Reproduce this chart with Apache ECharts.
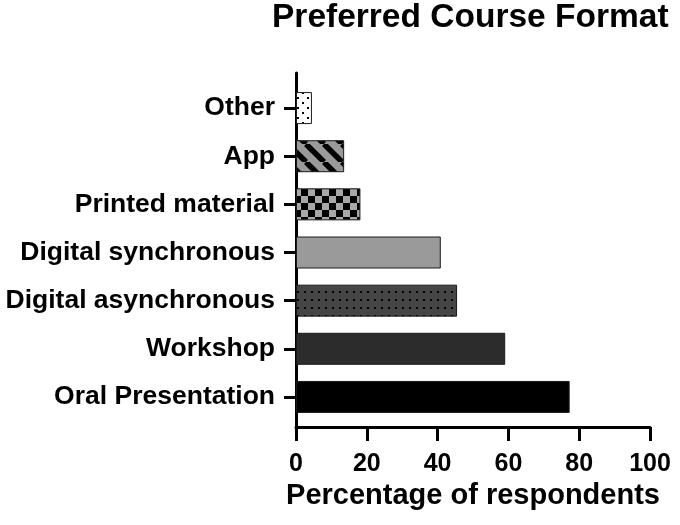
<!DOCTYPE html>
<html>
<head>
<meta charset="utf-8">
<script src="https://cdn.jsdelivr.net/npm/echarts@6/dist/echarts.min.js"></script>
<style>
  html, body { margin: 0; background: #fff; }
  #chart { width: 680px; height: 525px; }
</style>
</head>
<body>
<div id="chart"></div>
<script>
// data, bottom to top
var categories = ['Oral Presentation', 'Workshop', 'Digital asynchronous', 'Digital synchronous', 'Printed material', 'App', 'Other'];
var percents = [77.3, 59.1, 45.5, 40.9, 18.2, 13.6, 4.5];
var xTicks = [0, 20, 40, 60, 80, 100];

var FONT = 'Liberation Sans, Arial, Helvetica, sans-serif';

// small canvas tiles for the hatch fills
function tile(w, h, draw) {
  var c = document.createElement('canvas');
  c.width = w;
  c.height = h;
  draw(c.getContext('2d'));
  return c;
}
var dotsWhite = tile(10, 10, function (g) {
  g.fillStyle = '#fff'; g.fillRect(0, 0, 10, 10);
  g.fillStyle = '#000';
  g.fillRect(2, 2, 2, 2); g.fillRect(7, 7, 2, 2);
});
var stripes = tile(18, 18, function (g) {
  g.fillStyle = '#9a9a9a'; g.fillRect(0, 0, 18, 18);
  g.strokeStyle = '#000'; g.lineWidth = 5.5;
  for (var k = -2; k <= 2; k++) {
    g.beginPath(); g.moveTo(k * 18, 0); g.lineTo(k * 18 + 18, 18); g.stroke();
  }
});
var checks = tile(14, 14, function (g) {
  g.fillStyle = '#a8a8a8'; g.fillRect(0, 0, 14, 14);
  g.fillStyle = '#000';
  g.fillRect(0, 0, 7, 7); g.fillRect(7, 7, 7, 7);
});
var dotsDark = tile(7, 8, function (g) {
  g.fillStyle = '#454545'; g.fillRect(0, 0, 7, 8);
  g.fillStyle = '#000';
  g.fillRect(3, 3, 2, 2);
});

// fill per category, same order as categories
var fills = [
  '#000000',
  '#2c2c2c',
  { image: dotsDark, repeat: 'repeat' },
  '#9a9a9a',
  { image: checks, repeat: 'repeat' },
  { image: stripes, repeat: 'repeat' },
  { image: dotsWhite, repeat: 'repeat' }
];

var barData = percents.map(function (v, i) {
  return { value: v, itemStyle: { color: fills[i] } };
});

var chart = echarts.init(document.getElementById('chart'));
chart.setOption({
  backgroundColor: '#fff',
  animation: false,
  textStyle: { fontFamily: FONT },
  title: {
    text: 'Preferred Course Format',
    left: 267,
    top: -4,
    textStyle: { fontFamily: FONT, fontSize: 33.5, fontWeight: 'bold', color: '#000' }
  },
  grid: [
    // frame: axes lines, x ticks and labels
    { left: 296, right: 30, top: 73, bottom: 98, outerBoundsMode: 'none' },
    // bars
    { left: 296, right: 30, top: 84, bottom: 104, outerBoundsMode: 'none' }
  ],
  xAxis: [
    {
      gridIndex: 0,
      type: 'value',
      min: xTicks[0],
      max: xTicks[xTicks.length - 1],
      interval: 20,
      name: 'Percentage of respondents',
      nameLocation: 'middle',
      nameGap: 53,
      nameTextStyle: { fontFamily: FONT, fontSize: 29, fontWeight: 'bold', color: '#000' },
      axisLine: { show: true, lineStyle: { color: '#000', width: 3 } },
      axisTick: { show: true, length: 14, lineStyle: { color: '#000', width: 3 } },
      axisLabel: { fontFamily: FONT, fontSize: 25, fontWeight: 'bold', color: '#000', margin: 25 },
      splitLine: { show: false }
    },
    { gridIndex: 1, type: 'value', min: 0, max: 100, show: false }
  ],
  yAxis: [
    {
      gridIndex: 0,
      type: 'value',
      min: 0,
      max: 1,
      axisLine: { show: true, lineStyle: { color: '#000', width: 3 } },
      axisTick: { show: false },
      axisLabel: { show: false },
      splitLine: { show: false }
    },
    {
      gridIndex: 1,
      type: 'category',
      data: categories,
      axisLine: { show: false },
      axisTick: { show: true, alignWithLabel: true, length: 12, lineStyle: { color: '#000', width: 3 } },
      axisLabel: { fontFamily: FONT, fontSize: 26.5, fontWeight: 'bold', color: '#000', margin: 21 },
      splitLine: { show: false }
    }
  ],
  series: [
    {
      type: 'bar',
      xAxisIndex: 1,
      yAxisIndex: 1,
      barWidth: 32,
      data: barData,
      itemStyle: { borderColor: '#1a1a1a', borderWidth: 1 }
    }
  ]
});
</script>
</body>
</html>
